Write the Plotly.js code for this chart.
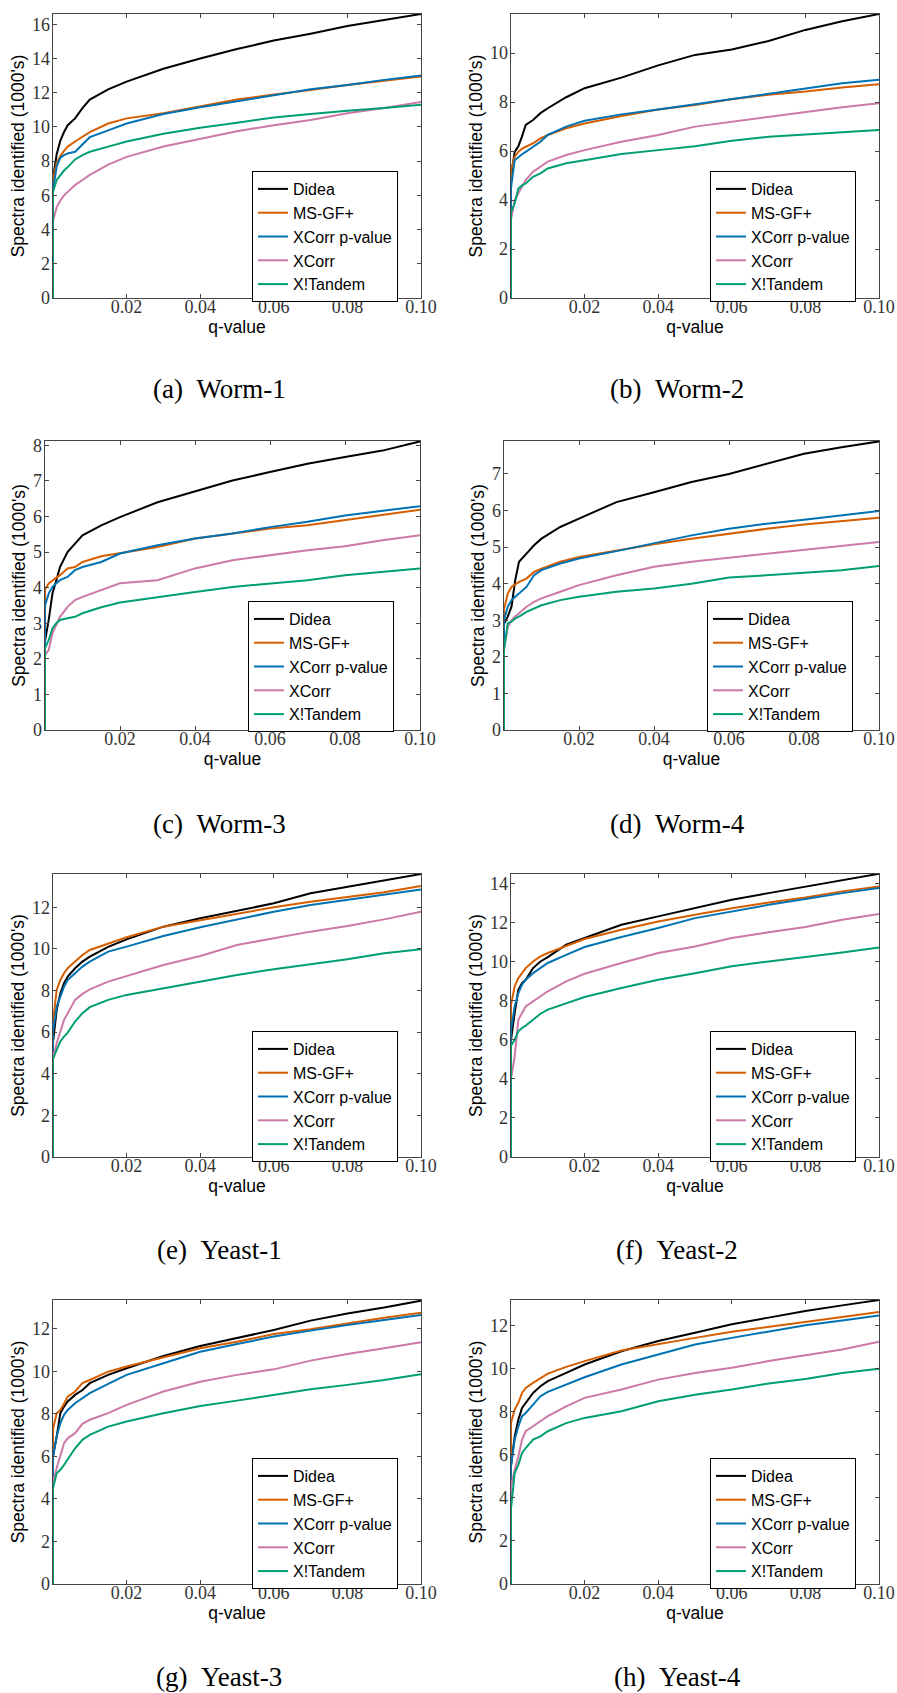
<!DOCTYPE html>
<html>
<head>
<meta charset="utf-8">
<script src="https://cdn.plot.ly/plotly-3.0.1.min.js"></script>
<style>html,body{margin:0;padding:0;background:#fff;}#chart{width:897px;height:1693px;}</style>
</head>
<body>
<div id="chart"></div>
<script>
// ---------- DATA ----------
const methods = ["Didea", "MS-GF+", "XCorr p-value", "XCorr", "X!Tandem"];
const colors = ["#000000", "#d55e00", "#0072b2", "#cc79a7", "#009e73"];
const qValues = [0, 0, 0.001, 0.002, 0.003, 0.004, 0.006, 0.008, 0.01, 0.015, 0.02, 0.03, 0.04, 0.05, 0.06, 0.07, 0.08, 0.09, 0.1];
const xTickVals = [0.02, 0.04, 0.06, 0.08, 0.1];
const xTickText = ["0.02", "0.04", "0.06", "0.08", "0.10"];
const captions = ["(a)\u00a0\u00a0Worm-1", "(b)\u00a0\u00a0Worm-2", "(c)\u00a0\u00a0Worm-3", "(d)\u00a0\u00a0Worm-4",
                  "(e)\u00a0\u00a0Yeast-1", "(f)\u00a0\u00a0Yeast-2", "(g)\u00a0\u00a0Yeast-3", "(h)\u00a0\u00a0Yeast-4"];
const yMax = [16.6, 11.6, 8.12, 7.9, 13.6, 14.5, 13.35, 13.2];
const yDtick = [2, 2, 1, 1, 2, 2, 2, 2];

const worm1_didea  = [0, 7.0, 8.4, 9.2, 9.7, 10.1, 10.5, 11.1, 11.6, 12.2, 12.65, 13.4, 14.0, 14.55, 15.05, 15.45, 15.9, 16.25, 16.6];
const worm1_msgf   = [0, 7.0, 7.9, 8.3, 8.6, 8.85, 9.15, 9.4, 9.7, 10.2, 10.5, 10.8, 11.2, 11.6, 11.9, 12.15, 12.45, 12.7, 12.95];
const worm1_xcorrp = [0, 6.3, 7.7, 8.2, 8.35, 8.45, 8.55, 9.0, 9.4, 9.8, 10.2, 10.75, 11.15, 11.5, 11.85, 12.2, 12.45, 12.75, 13.0];
const worm1_xcorr  = [0, 4.5, 5.3, 5.7, 6.0, 6.2, 6.6, 6.9, 7.2, 7.8, 8.25, 8.85, 9.3, 9.75, 10.1, 10.4, 10.8, 11.1, 11.45];
const worm1_tandem = [0, 6.2, 6.9, 7.2, 7.45, 7.65, 8.1, 8.35, 8.55, 8.85, 9.15, 9.6, 9.95, 10.25, 10.55, 10.75, 10.95, 11.1, 11.3];

const worm2_didea  = [0, 4.95, 5.97, 6.2, 6.6, 7.07, 7.27, 7.55, 7.75, 8.2, 8.57, 9.0, 9.5, 9.93, 10.15, 10.5, 10.95, 11.3, 11.6];
const worm2_msgf   = [0, 5.2, 5.77, 5.97, 6.1, 6.18, 6.32, 6.52, 6.66, 6.93, 7.13, 7.43, 7.7, 7.88, 8.12, 8.3, 8.43, 8.6, 8.73];
const worm2_xcorrp = [0, 4.5, 5.63, 5.77, 5.87, 5.97, 6.18, 6.38, 6.66, 7.0, 7.24, 7.5, 7.7, 7.91, 8.12, 8.36, 8.57, 8.77, 8.91];
const worm2_xcorr  = [0, 3.2, 4.0, 4.27, 4.55, 4.82, 5.16, 5.36, 5.57, 5.84, 6.04, 6.38, 6.66, 7.0, 7.2, 7.4, 7.61, 7.79, 7.95];
const worm2_tandem = [0, 3.5, 3.86, 4.47, 4.6, 4.68, 4.95, 5.09, 5.29, 5.5, 5.63, 5.88, 6.04, 6.2, 6.42, 6.59, 6.68, 6.77, 6.86];

const worm3_didea  = [0, 2.5, 3.1, 3.84, 4.2, 4.58, 5.0, 5.24, 5.47, 5.75, 5.98, 6.4, 6.71, 7.01, 7.25, 7.48, 7.67, 7.85, 8.11];
const worm3_msgf   = [0, 3.95, 4.12, 4.21, 4.28, 4.35, 4.54, 4.58, 4.72, 4.88, 4.96, 5.14, 5.38, 5.52, 5.66, 5.75, 5.89, 6.05, 6.19];
const worm3_xcorrp = [0, 3.5, 3.84, 4.02, 4.12, 4.21, 4.3, 4.49, 4.58, 4.72, 4.96, 5.19, 5.38, 5.52, 5.7, 5.85, 6.03, 6.17, 6.29];
const worm3_xcorr  = [0, 2.1, 2.25, 2.72, 2.95, 3.18, 3.46, 3.65, 3.74, 3.93, 4.12, 4.21, 4.54, 4.77, 4.91, 5.05, 5.16, 5.33, 5.47];
const worm3_tandem = [0, 2.3, 2.53, 2.86, 3.0, 3.09, 3.14, 3.18, 3.28, 3.45, 3.58, 3.74, 3.88, 4.02, 4.12, 4.21, 4.35, 4.44, 4.54];

const worm4_didea  = [0, 2.9, 3.1, 3.37, 4.1, 4.6, 4.82, 5.05, 5.23, 5.55, 5.78, 6.23, 6.5, 6.78, 7.0, 7.28, 7.55, 7.73, 7.89];
const worm4_msgf   = [0, 3.3, 3.73, 3.91, 3.98, 4.05, 4.14, 4.32, 4.41, 4.6, 4.73, 4.91, 5.08, 5.23, 5.37, 5.5, 5.62, 5.7, 5.8];
const worm4_xcorrp = [0, 3.0, 3.37, 3.55, 3.64, 3.73, 3.91, 4.23, 4.37, 4.55, 4.69, 4.89, 5.1, 5.32, 5.5, 5.64, 5.75, 5.87, 5.99];
const worm4_xcorr  = [0, 2.2, 2.82, 3.0, 3.1, 3.19, 3.37, 3.5, 3.6, 3.78, 3.96, 4.23, 4.46, 4.6, 4.71, 4.82, 4.93, 5.05, 5.14];
const worm4_tandem = [0, 2.2, 2.92, 2.96, 3.05, 3.1, 3.23, 3.32, 3.41, 3.55, 3.64, 3.78, 3.87, 4.0, 4.17, 4.23, 4.3, 4.37, 4.48];

const yeast1_didea  = [0, 5.5, 7.07, 7.87, 8.35, 8.67, 9.07, 9.39, 9.63, 10.1, 10.46, 11.07, 11.47, 11.82, 12.19, 12.67, 12.99, 13.28, 13.6];
const yeast1_msgf   = [0, 6.5, 8.03, 8.51, 8.83, 9.07, 9.39, 9.71, 9.95, 10.27, 10.56, 11.07, 11.39, 11.71, 12.0, 12.27, 12.48, 12.72, 13.02];
const yeast1_xcorrp = [0, 6.0, 7.23, 7.71, 8.19, 8.51, 8.83, 9.15, 9.39, 9.87, 10.11, 10.62, 11.04, 11.42, 11.79, 12.11, 12.35, 12.59, 12.86];
const yeast1_xcorr  = [0, 4.8, 5.47, 6.03, 6.59, 6.91, 7.55, 7.84, 8.06, 8.43, 8.7, 9.23, 9.66, 10.19, 10.51, 10.83, 11.1, 11.42, 11.79];
const yeast1_tandem = [0, 4.7, 5.15, 5.55, 5.79, 5.98, 6.51, 6.91, 7.2, 7.55, 7.79, 8.11, 8.46, 8.75, 9.02, 9.26, 9.5, 9.79, 9.98];

const yeast2_didea  = [0, 6.0, 7.38, 8.57, 8.91, 9.08, 9.68, 10.02, 10.24, 10.88, 11.22, 11.9, 12.33, 12.75, 13.18, 13.52, 13.86, 14.2, 14.51];
const yeast2_msgf   = [0, 7.8, 8.74, 9.17, 9.42, 9.68, 10.02, 10.28, 10.45, 10.79, 11.17, 11.64, 12.07, 12.41, 12.75, 13.04, 13.3, 13.61, 13.86];
const yeast2_xcorrp = [0, 6.5, 7.72, 8.4, 8.83, 9.08, 9.42, 9.68, 9.94, 10.36, 10.76, 11.27, 11.73, 12.24, 12.58, 12.92, 13.22, 13.52, 13.78];
const yeast2_xcorr  = [0, 4.0, 5.16, 7.03, 7.38, 7.72, 7.97, 8.23, 8.49, 9.0, 9.39, 9.94, 10.45, 10.79, 11.22, 11.51, 11.78, 12.16, 12.45];
const yeast2_tandem = [0, 5.7, 6.01, 6.44, 6.61, 6.73, 7.03, 7.34, 7.55, 7.89, 8.2, 8.66, 9.08, 9.42, 9.77, 10.02, 10.24, 10.48, 10.74];

const yeast3_didea  = [0, 6.0, 6.93, 8.03, 8.34, 8.58, 8.89, 9.12, 9.44, 9.83, 10.14, 10.72, 11.19, 11.55, 11.94, 12.38, 12.72, 13.0, 13.32];
const yeast3_msgf   = [0, 7.3, 8.03, 8.18, 8.47, 8.81, 9.05, 9.44, 9.59, 9.98, 10.22, 10.66, 11.08, 11.39, 11.75, 11.97, 12.25, 12.52, 12.75];
const yeast3_xcorrp = [0, 6.0, 6.93, 7.56, 7.95, 8.18, 8.5, 8.73, 8.97, 9.41, 9.83, 10.38, 10.92, 11.28, 11.63, 11.91, 12.18, 12.41, 12.64];
const yeast3_xcorr  = [0, 4.8, 5.45, 5.99, 6.62, 6.85, 7.09, 7.53, 7.72, 8.03, 8.42, 9.05, 9.51, 9.83, 10.09, 10.5, 10.81, 11.08, 11.36];
const yeast3_tandem = [0, 4.5, 5.21, 5.37, 5.6, 5.84, 6.38, 6.78, 7.01, 7.4, 7.64, 8.03, 8.37, 8.62, 8.89, 9.15, 9.36, 9.59, 9.86];

const yeast4_didea  = [0, 5.5, 6.86, 7.64, 8.18, 8.42, 8.88, 9.19, 9.43, 9.81, 10.2, 10.82, 11.29, 11.68, 12.07, 12.38, 12.69, 12.95, 13.2];
const yeast4_msgf   = [0, 7.5, 8.11, 8.42, 8.88, 9.11, 9.35, 9.58, 9.78, 10.09, 10.36, 10.85, 11.16, 11.44, 11.72, 11.94, 12.19, 12.41, 12.64];
const yeast4_xcorrp = [0, 5.5, 6.71, 7.33, 7.8, 7.95, 8.34, 8.73, 8.93, 9.27, 9.61, 10.2, 10.67, 11.13, 11.44, 11.75, 12.03, 12.25, 12.48];
const yeast4_xcorr  = [0, 4.5, 5.31, 5.93, 6.71, 7.1, 7.33, 7.56, 7.8, 8.26, 8.65, 9.04, 9.5, 9.81, 10.05, 10.36, 10.62, 10.9, 11.26];
const yeast4_tandem = [0, 3.5, 5.16, 5.54, 6.09, 6.32, 6.71, 6.86, 7.1, 7.48, 7.72, 8.03, 8.49, 8.8, 9.04, 9.32, 9.53, 9.81, 10.0];

const panelSeries = [
  [worm1_didea, worm1_msgf, worm1_xcorrp, worm1_xcorr, worm1_tandem],
  [worm2_didea, worm2_msgf, worm2_xcorrp, worm2_xcorr, worm2_tandem],
  [worm3_didea, worm3_msgf, worm3_xcorrp, worm3_xcorr, worm3_tandem],
  [worm4_didea, worm4_msgf, worm4_xcorrp, worm4_xcorr, worm4_tandem],
  [yeast1_didea, yeast1_msgf, yeast1_xcorrp, yeast1_xcorr, yeast1_tandem],
  [yeast2_didea, yeast2_msgf, yeast2_xcorrp, yeast2_xcorr, yeast2_tandem],
  [yeast3_didea, yeast3_msgf, yeast3_xcorrp, yeast3_xcorr, yeast3_tandem],
  [yeast4_didea, yeast4_msgf, yeast4_xcorrp, yeast4_xcorr, yeast4_tandem]
];

// ---------- LAYOUT GEOMETRY (pixels) ----------
const W = 897, H = 1693;
const boxes = [ // left, right, top, bottom
  [53, 421, 14, 298], [511, 879, 14, 298],
  [45, 420, 441, 730], [504, 879, 441, 730],
  [53, 421, 874, 1157], [511, 879, 874, 1157],
  [53, 421, 1300, 1584], [511, 879, 1300, 1584]
];
const legendPos = [[252, 171], [710, 171], [248, 601], [707, 601], [252, 1031], [710, 1031], [252, 1458], [710, 1458]];
const captionPos = [[219, 389], [677, 389], [219, 824], [677, 824], [219, 1250], [677, 1250], [219, 1677], [677, 1677]];

const sans = "'Liberation Sans', Arial, sans-serif";
const serif = "'Liberation Serif', 'Times New Roman', serif";

const traces = [];
const layout = {
  width: W, height: H,
  margin: {l: 0, r: 0, t: 0, b: 0},
  paper_bgcolor: "#ffffff", plot_bgcolor: "#ffffff",
  showlegend: true,
  annotations: []
};

panelSeries.forEach((series, p) => {
  const sfx = p === 0 ? "" : String(p + 1);
  const legId = p === 0 ? "legend" : "legend" + (p + 1);
  series.forEach((ys, k) => {
    traces.push({
      type: "scatter", mode: "lines",
      x: qValues, y: ys,
      name: methods[k],
      xaxis: "x" + sfx, yaxis: "y" + sfx,
      legend: legId,
      line: {color: colors[k], width: 2},
      hoverinfo: "skip"
    });
  });
  const b = boxes[p];
  layout["xaxis" + sfx] = {
    domain: [b[0] / W, b[1] / W],
    anchor: "y" + sfx,
    range: [0, 0.1],
    tickmode: "array", tickvals: xTickVals, ticktext: xTickText,
    ticks: "inside", ticklen: 4, tickwidth: 1, tickcolor: "#444",
    ticklabelstandoff: -8,
    showline: true, linecolor: "#444", linewidth: 1.3, mirror: "ticks",
    showgrid: false, zeroline: false,
    tickfont: {family: serif, size: 18, color: "#333"},
    title: {text: "q-value", font: {family: sans, size: 17.5, color: "#000"}, standoff: 0}
  };
  layout["yaxis" + sfx] = {
    domain: [1 - b[3] / H, 1 - b[2] / H],
    anchor: "x" + sfx,
    range: [0, yMax[p]],
    tickmode: "linear", tick0: 0, dtick: yDtick[p],
    ticks: "inside", ticklen: 4, tickwidth: 1, tickcolor: "#444",
    ticklabelstandoff: -2,
    showline: true, linecolor: "#444", linewidth: 1.3, mirror: "ticks",
    showgrid: false, zeroline: false,
    tickfont: {family: serif, size: 18, color: "#333"},
    title: {text: "Spectra identified (1000's)", font: {family: sans, size: 17.5, color: "#000"}, standoff: 3}
  };
  layout[legId] = {
    x: legendPos[p][0] / W, y: 1 - legendPos[p][1] / H,
    xanchor: "left", yanchor: "top",
    xref: "paper", yref: "paper",
    bgcolor: "#ffffff", bordercolor: "#000", borderwidth: 1,
    font: {family: sans, size: 16, color: "#000"},
    tracegroupgap: 0
  };
  layout.annotations.push({
    text: captions[p], xref: "paper", yref: "paper",
    x: captionPos[p][0] / W, y: 1 - captionPos[p][1] / H,
    xanchor: "center", yanchor: "middle", showarrow: false,
    font: {family: serif, size: 27, color: "#000"}
  });
});

Plotly.newPlot("chart", traces, layout, {staticPlot: true, displayModeBar: false});
</script>
</body>
</html>
